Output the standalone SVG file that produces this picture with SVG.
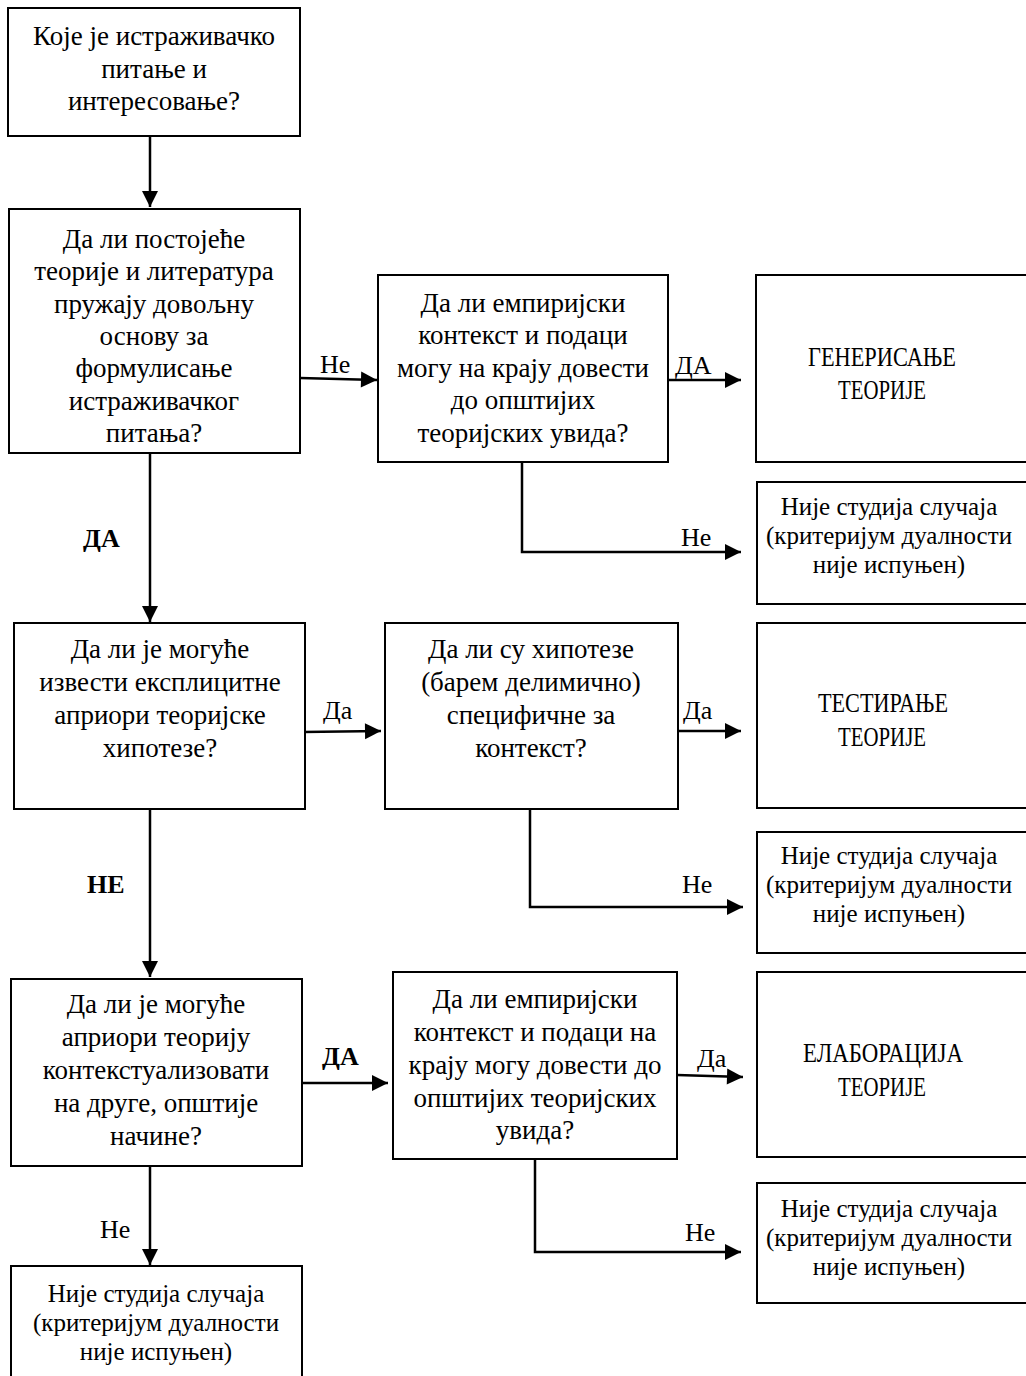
<svg xmlns="http://www.w3.org/2000/svg" width="1026" height="1376" viewBox="0 0 1026 1376">
<style>
.box{fill:#fff;stroke:#000;stroke-width:2}
.t{font-family:"Liberation Serif","Times New Roman",serif;font-size:27px;fill:#000;text-anchor:middle}
.s{font-family:"Liberation Serif","Times New Roman",serif;font-size:25px;fill:#000;text-anchor:middle}
.l{font-family:"Liberation Serif","Times New Roman",serif;font-size:26px;fill:#000}
.b{font-weight:bold}
.c{fill:none;stroke:#000;stroke-width:2.5}
</style>
<defs>
<marker id="ah" markerUnits="userSpaceOnUse" markerWidth="18" markerHeight="18" viewBox="0 0 18 18" refX="17" refY="9" orient="auto">
<path d="M1,1 L17,9 L1,17 Z" fill="#000"/>
</marker>
</defs>
<rect width="1026" height="1376" fill="#fff"/>

<g id="connectors">
<path class="c" d="M150,137 V207" marker-end="url(#ah)"/>
<path class="c" d="M300,378 L377,380" marker-end="url(#ah)"/>
<path class="c" d="M668,380 H741" marker-end="url(#ah)"/>
<path class="c" d="M522,462 V552 H741" marker-end="url(#ah)"/>
<path class="c" d="M150,453 V622" marker-end="url(#ah)"/>
<path class="c" d="M303,732 L381,731" marker-end="url(#ah)"/>
<path class="c" d="M678,731 H741" marker-end="url(#ah)"/>
<path class="c" d="M530,809 V907 H743" marker-end="url(#ah)"/>
<path class="c" d="M150,809 V977" marker-end="url(#ah)"/>
<path class="c" d="M302,1083 H388" marker-end="url(#ah)"/>
<path class="c" d="M677,1075 L743,1077" marker-end="url(#ah)"/>
<path class="c" d="M535,1159 V1252 H741" marker-end="url(#ah)"/>
<path class="c" d="M150,1166 V1265" marker-end="url(#ah)"/>
<text class="l" x="320" y="373">Не</text>
<text class="l" x="675" y="374">ДА</text>
<text class="l" x="681" y="546">Не</text>
<text class="l b" x="83" y="547">ДА</text>
<text class="l" x="323" y="719">Да</text>
<text class="l" x="683" y="719">Да</text>
<text class="l" x="682" y="893">Не</text>
<text class="l b" x="87" y="893">НЕ</text>
<text class="l b" x="322" y="1065">ДА</text>
<text class="l" x="697" y="1067">Да</text>
<text class="l" x="685" y="1241">Не</text>
<text class="l" x="100" y="1238">Не</text>
</g>

<g id="n1">
<rect class="box" x="8" y="8" width="292" height="128"/>
<text class="t" x="154" y="45">Које је истраживачко</text>
<text class="t" x="154" y="78">питање и</text>
<text class="t" x="154" y="110">интересовање?</text>
</g>

<g id="n2">
<rect class="box" x="9" y="209" width="291" height="244"/>
<text class="t" x="154" y="248">Да ли постојеће</text>
<text class="t" x="154" y="280">теорије и литература</text>
<text class="t" x="154" y="313">пружају довољну</text>
<text class="t" x="154" y="345">основу за</text>
<text class="t" x="154" y="377">формулисање</text>
<text class="t" x="154" y="410">истраживачког</text>
<text class="t" x="154" y="442">питања?</text>
</g>

<g id="n3">
<rect class="box" x="378" y="275" width="290" height="187"/>
<text class="t" x="523" y="312">Да ли емпиријски</text>
<text class="t" x="523" y="344">контекст и подаци</text>
<text class="t" x="523" y="377">могу на крају довести</text>
<text class="t" x="523" y="409">до општијих</text>
<text class="t" x="523" y="442">теоријских увида?</text>
</g>

<g id="n_gen">
<rect class="box" x="756" y="275" width="280" height="187"/>
<text class="t" x="882" y="366" textLength="148" lengthAdjust="spacingAndGlyphs">ГЕНЕРИСАЊЕ</text>
<text class="t" x="882" y="399" textLength="88" lengthAdjust="spacingAndGlyphs">ТЕОРИЈЕ</text>
</g>

<g id="n_ns1">
<rect class="box" x="757" y="482" width="280" height="122"/>
<text class="s" x="889" y="515">Није студија случаја</text>
<text class="s" x="889" y="544">(критеријум дуалности</text>
<text class="s" x="889" y="573">није испуњен)</text>
</g>

<g id="n4">
<rect class="box" x="14" y="623" width="291" height="186"/>
<text class="t" x="160" y="658">Да ли је могуће</text>
<text class="t" x="160" y="691">извести експлицитне</text>
<text class="t" x="160" y="724">априори теоријске</text>
<text class="t" x="160" y="757">хипотезе?</text>
</g>

<g id="n5">
<rect class="box" x="385" y="623" width="293" height="186"/>
<text class="t" x="531" y="658">Да ли су хипотезе</text>
<text class="t" x="531" y="691">(барем делимично)</text>
<text class="t" x="531" y="724">специфичне за</text>
<text class="t" x="531" y="757">контекст?</text>
</g>

<g id="n_test">
<rect class="box" x="757" y="623" width="280" height="185"/>
<text class="t" x="883" y="712" textLength="130" lengthAdjust="spacingAndGlyphs">ТЕСТИРАЊЕ</text>
<text class="t" x="882" y="746" textLength="88" lengthAdjust="spacingAndGlyphs">ТЕОРИЈЕ</text>
</g>

<g id="n_ns2">
<rect class="box" x="757" y="832" width="280" height="121"/>
<text class="s" x="889" y="864">Није студија случаја</text>
<text class="s" x="889" y="893">(критеријум дуалности</text>
<text class="s" x="889" y="922">није испуњен)</text>
</g>

<g id="n6">
<rect class="box" x="11" y="979" width="291" height="187"/>
<text class="t" x="156" y="1013">Да ли је могуће</text>
<text class="t" x="156" y="1046">априори теорију</text>
<text class="t" x="156" y="1079">контекстуализовати</text>
<text class="t" x="156" y="1112">на друге, општије</text>
<text class="t" x="156" y="1145">начине?</text>
</g>

<g id="n7">
<rect class="box" x="393" y="972" width="284" height="187"/>
<text class="t" x="535" y="1008">Да ли емпиријски</text>
<text class="t" x="535" y="1041">контекст и подаци на</text>
<text class="t" x="535" y="1074">крају могу довести до</text>
<text class="t" x="535" y="1107">општијих теоријских</text>
<text class="t" x="535" y="1139">увида?</text>
</g>

<g id="n_elab">
<rect class="box" x="757" y="972" width="280" height="185"/>
<text class="t" x="883" y="1062" textLength="160" lengthAdjust="spacingAndGlyphs">ЕЛАБОРАЦИЈА</text>
<text class="t" x="882" y="1096" textLength="88" lengthAdjust="spacingAndGlyphs">ТЕОРИЈЕ</text>
</g>

<g id="n_ns3">
<rect class="box" x="757" y="1183" width="280" height="120"/>
<text class="s" x="889" y="1217">Није студија случаја</text>
<text class="s" x="889" y="1246">(критеријум дуалности</text>
<text class="s" x="889" y="1275">није испуњен)</text>
</g>

<g id="n_ns4">
<rect class="box" x="11" y="1266" width="291" height="120"/>
<text class="s" x="156" y="1302">Није студија случаја</text>
<text class="s" x="156" y="1331">(критеријум дуалности</text>
<text class="s" x="156" y="1360">није испуњен)</text>
</g>
</svg>
